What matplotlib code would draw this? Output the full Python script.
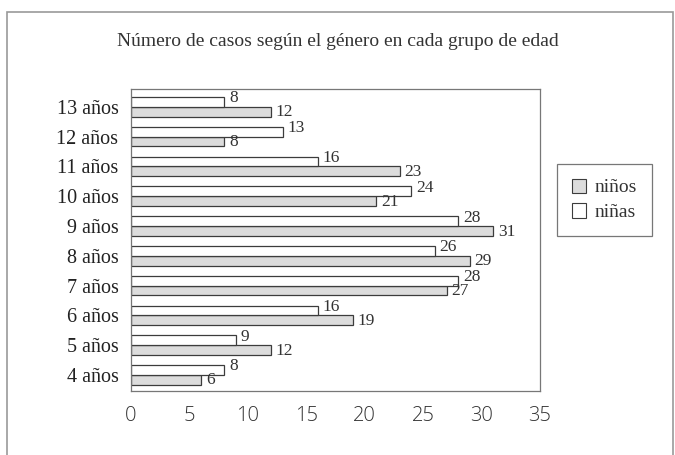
import matplotlib
matplotlib.use('Agg')
import matplotlib.pyplot as plt
import numpy as np
from matplotlib.patches import Rectangle, Patch

edades = ['4 años', '5 años', '6 años', '7 años', '8 años',
          '9 años', '10 años', '11 años', '12 años', '13 años']
ninos = [6, 12, 19, 27, 29, 31, 21, 23, 8, 12]
ninas = [8, 9, 16, 28, 26, 28, 24, 16, 13, 8]
x_ticks = [0, 5, 10, 15, 20, 25, 30, 35]

titulo = 'Número de casos según el género en cada grupo de edad'

serif = 'Liberation Serif'
edge = '#3c3c3c'
gris = '#dcdcdc'

fig = plt.figure(figsize=(6.75, 4.55), dpi=100)

# marco exterior
fig.patches.append(Rectangle((7 / 675, -0.05), 666 / 675, 1.05 - 12 / 455,
                             transform=fig.transFigure, fill=False,
                             edgecolor='#999999', linewidth=1.2))

ax = fig.add_axes([131 / 675, 1 - 391 / 455, 409 / 675, 302 / 455])

y = np.arange(len(edades))
h = 0.33
ax.barh(y - h / 2, ninos, height=h, color=gris, edgecolor=edge, linewidth=0.9)
ax.barh(y + h / 2, ninas, height=h, color='white', edgecolor=edge, linewidth=0.9)

for i in range(len(edades)):
    ax.text(ninas[i] + 0.4, y[i] + h / 2 + 0.12, str(ninas[i]),
            ha='left', va='center', fontsize=12.5, family=serif, color='#333333')
    ax.text(ninos[i] + 0.4, y[i] - h / 2 - 0.02, str(ninos[i]),
            ha='left', va='center', fontsize=12.5, family=serif, color='#333333')

ax.set_xlim(0, 35)
ax.set_ylim(-0.54, 9.6)
ax.set_xticks(x_ticks)
ax.set_xticklabels([str(t) for t in x_ticks], fontsize=14.5, family='Open Sans',
                   fontweight='light', color='#333333')
ax.set_yticks(y)
ax.set_yticklabels(edades, fontsize=14.5, family=serif, color='#222222')
ax.tick_params(length=0, pad=9)
ax.tick_params(axis='x', pad=11)
for s in ax.spines.values():
    s.set_edgecolor('#777777')
    s.set_linewidth(0.9)

fig.text(338 / 675, 1 - 42 / 455, titulo, ha='center', va='center',
         fontsize=14, family=serif, color='#333333')

handles = [Patch(facecolor=gris, edgecolor=edge, linewidth=0.8, label='niños'),
           Patch(facecolor='white', edgecolor=edge, linewidth=0.8, label='niñas')]
leg = fig.legend(handles=handles, loc='upper left',
                 bbox_to_anchor=(557 / 675, 1 - 164 / 455),
                 prop={'family': serif, 'size': 14}, frameon=True,
                 fancybox=False, handlelength=0.75, handleheight=0.75,
                 handletextpad=0.45, borderpad=0.75, labelspacing=0.35,
                 borderaxespad=0)
leg.get_frame().set_edgecolor('#555555')
leg.get_frame().set_linewidth(0.9)
for t in leg.get_texts():
    t.set_color('#333333')

fig.savefig('out.png', dpi=100)
